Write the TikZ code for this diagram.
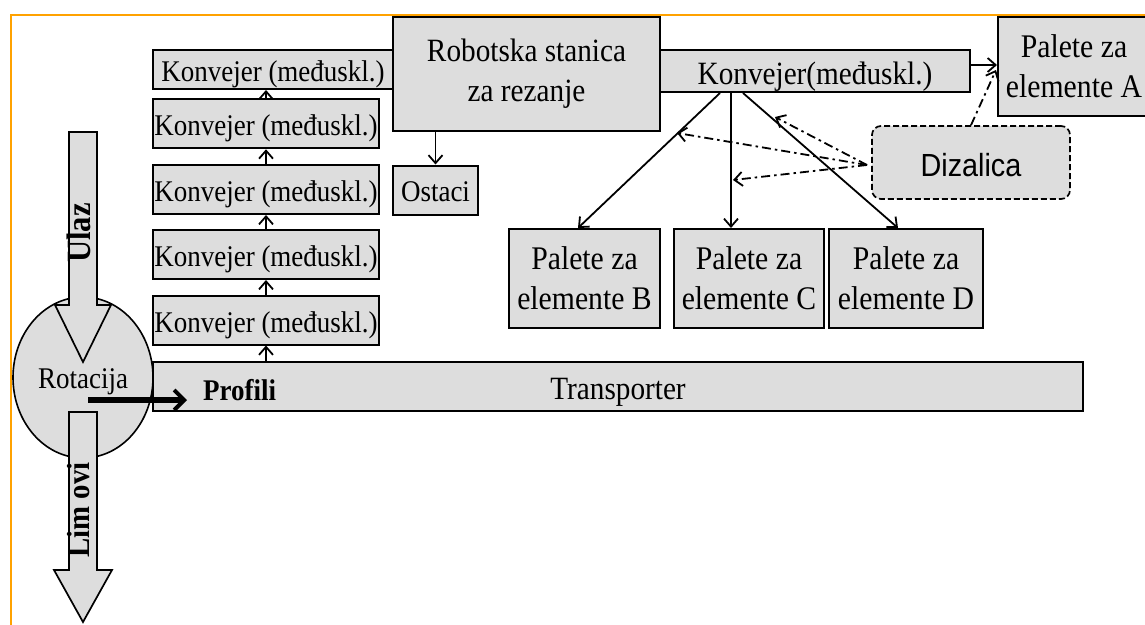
\documentclass[tikz,border=0pt]{standalone}
\usepackage{fontspec}
\setmainfont{Liberation Serif}[FakeStretch=0.9]
\newfontfamily\sansf{Liberation Sans}[FakeStretch=0.9]
\usetikzlibrary{arrows.meta,shapes.geometric}
\definecolor{boxgray}{HTML}{DDDDDD}
\definecolor{frameorange}{HTML}{FFA200}
\begin{document}
\begin{tikzpicture}[x=1pt,y=-1pt,
  box/.style={draw=black,line width=2pt,fill=boxgray,inner sep=0pt,align=center},
  onek/.style={text height=24pt,text depth=0pt},
  oneb/.style={text height=26pt,text depth=0pt},
  fk/.style={font=\fontsize{30}{40}\selectfont},
  fb/.style={font=\fontsize{32.5}{40}\selectfont},
  fp/.style={font=\fontsize{33}{40}\selectfont},
  arr/.style={line width=1.8pt,-{Straight Barb[length=8pt,width=14pt]}},
  dd/.style={line width=1.8pt,dash pattern=on 9pt off 4pt on 2.5pt off 4pt,-{Straight Barb[length=8pt,width=14pt]}},
  blockarrow/.style={draw=black,line width=1.7pt,fill=boxgray,line join=miter}
]
\useasboundingbox (0,0) rectangle (1145,624);
% frame
\draw[frameorange,line width=2.5pt] (11,640) -- (11,15) -- (1160,15);
% transporter
\node[box,oneb,fb,minimum width=930pt,minimum height=49pt] (tr) at (618,386.5) {Transporter};
% left conveyors
\node[box,onek,fk,minimum width=240pt,minimum height=39pt] (k1) at (273,69.5) {Konvejer (međuskl.)};
\node[box,onek,fk,minimum width=226pt,minimum height=49pt] (k2) at (266,123.8) {Konvejer (međuskl.)};
\node[box,onek,fk,minimum width=226pt,minimum height=49pt] (k3) at (266,189.5) {Konvejer (međuskl.)};
\node[box,onek,fk,minimum width=226pt,minimum height=49pt] (k4) at (266,254.5) {Konvejer (međuskl.)};
\node[box,onek,fk,minimum width=226pt,minimum height=49pt] (k5) at (266,320) {Konvejer (međuskl.)};
% robot station
\node[box,fb,minimum width=267pt,minimum height=114pt] (rob) at (526.5,74) {Robotska stanica\\za rezanje};
\node[box,text height=22pt,text depth=0pt,fk,minimum width=85pt,minimum height=49pt] (ost) at (435.5,190) {Ostaci};
% right conveyor
\node[box,oneb,fb,minimum width=310pt,minimum height=42pt] (kr) at (815,71) {Konvejer(međuskl.)};
% pallets
\node[box,fp,minimum width=152pt,minimum height=99pt] (pa) at (1074,66.5) {Palete za\\elemente A};
\node[box,fp,minimum width=151pt,minimum height=99pt] (pb) at (584.5,278.5) {Palete za\\elemente B};
\node[box,fp,minimum width=150pt,minimum height=99pt] (pc) at (749,278.5) {Palete za\\elemente C};
\node[box,fp,minimum width=154pt,minimum height=99pt] (pd) at (906,278.5) {Palete za\\elemente D};
% crane
\node[draw=black,line width=1.7pt,fill=boxgray,dash pattern=on 6pt off 3pt,rounded corners=9pt,
  inner sep=0pt,minimum width=198pt,minimum height=73pt,text height=28pt,text depth=0pt,
  font=\sansf\fontsize{32}{40}\selectfont] (diz) at (971,162.5) {Dizalica};
% rotation ellipse
\node[ellipse,draw=black,line width=1.6pt,fill=boxgray,inner sep=0pt,minimum width=140pt,minimum height=161pt,
  text height=21pt,text depth=0pt,fk] (rot) at (83,377.5) {Rotacija};
% block arrows
\draw[blockarrow] (69,132) -- (97,132) -- (97,305) -- (111,305) -- (83,362) -- (55,305) -- (69,305) -- cycle;
\draw[blockarrow] (69,412) -- (97,412) -- (97,570) -- (112,570) -- (83,622) -- (54,570) -- (69,570) -- cycle;
\node[rotate=90,inner sep=0pt,font=\bfseries\fontsize{34}{40}\selectfont] (ulaz) at (78.5,233) {Ulaz};
\node[rotate=90,inner sep=0pt,font=\bfseries\fontsize{32}{40}\selectfont] (lim) at (78.5,510) {Lim ovi};
% chain arrows
\draw[arr] (k2.north) -- (k2.north |- k1.south);
\draw[arr] (k3.north) -- (k3.north |- k2.south);
\draw[arr] (k4.north) -- (k4.north |- k3.south);
\draw[arr] (k5.north) -- (k5.north |- k4.south);
\draw[arr] (k5.south |- tr.north) -- (k5.south);
\draw[arr] (ost.north |- rob.south) -- (ost.north);
% to pallets
\draw[arr] ([xshift=-95pt]kr.south) -- ([xshift=-6.5pt]pb.north);
\draw[arr] ([xshift=-84pt]kr.south) -- ([xshift=-84pt]kr.south |- pc.north);
\draw[arr] ([xshift=-72pt]kr.south) -- ([xshift=-8pt]pd.north);
\draw[arr] ([yshift=6pt]kr.east) -- ([yshift=6pt]kr.east -| pa.west);
% crane connections
\coordinate (dzl) at (867,165);
\coordinate (eB) at (677,133);
\coordinate (eC) at (733,180);
\coordinate (eD) at (775,117);
\coordinate (eA) at (996,70);
\draw[dd] (dzl) -- (eB);
\draw[dd] (dzl) -- (eC);
\draw[dd] (dzl) -- (eD);
\draw[dd] (diz.north) -- (eA);
% profiles
\coordinate (pst) at (88,400);
\draw[line width=6.5pt,-{Straight Barb[length=10pt,width=20pt,line width=4pt]}] (pst) -- (pst -| 187,0);
\node[anchor=base west,inner sep=0pt,font=\bfseries\fontsize{30}{40}\selectfont] (prof) at (203,400) {Profili};
\end{tikzpicture}
\end{document}
